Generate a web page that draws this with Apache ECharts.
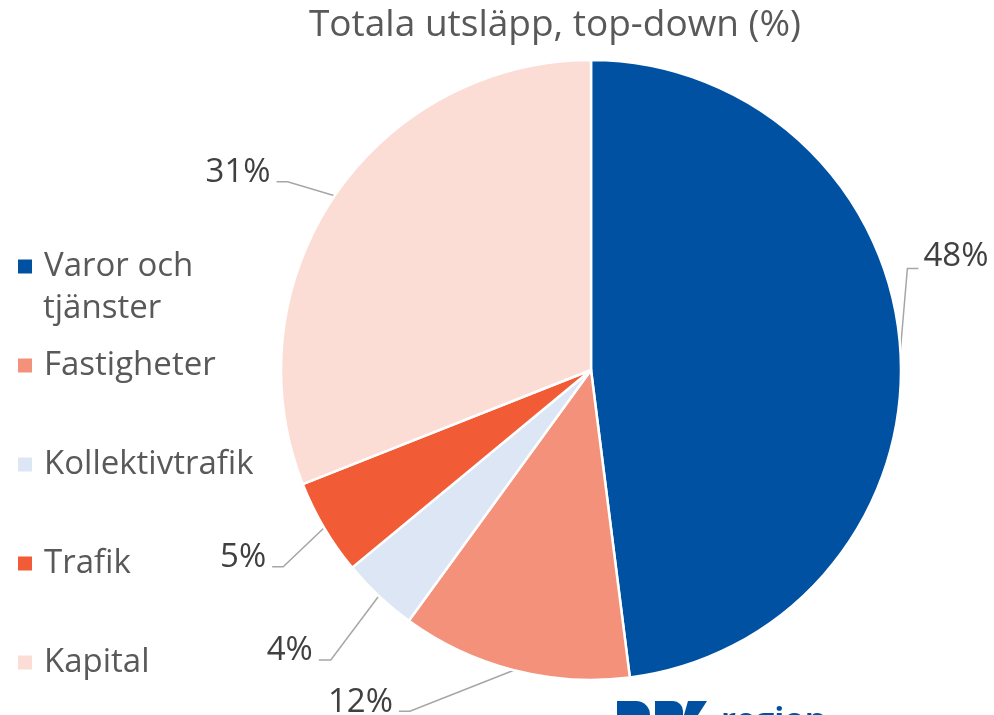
<!DOCTYPE html>
<html>
<head>
<meta charset="utf-8">
<script src="https://cdn.jsdelivr.net/npm/echarts@6/dist/echarts.min.js"></script>
<style>
html,body{margin:0;padding:0;background:#fff;}
#chart{width:994px;height:715px;}
</style>
</head>
<body>
<div id="chart"></div>
<script>
const categories = ['Varor och tjänster', 'Fastigheter', 'Kollektivtrafik', 'Trafik', 'Kapital'];
const values = [48, 12, 4, 5, 31];
const colors = ['#0051A1', '#F4917A', '#DCE6F4', '#F15B35', '#FBDDD6'];
const titleText = 'Totala utsläpp, top-down (%)';
const legendFirstLine = 'Varor och';
const legendSecondLine = 'tjänster';

// label leader-line geometry (style only): bend offset from slice edge, horizontal tail length
const labelGeom = [
  {bx: 7, by: -82, h: 11},
  {bx: -104, by: 41, h: -11},
  {bx: -48, by: 64, h: -12},
  {bx: -41, by: 39, h: -11},
  {bx: -47, by: -14, h: -11}
];

const FONT = '"Open Sans", sans-serif';
const chart = echarts.init(document.getElementById('chart'));

const option = {
  animation: false,
  backgroundColor: '#fff',
  title: {
    text: titleText,
    left: 555,
    top: 7,
    padding: 0,
    textAlign: 'center',
    textStyle: {fontFamily: FONT, fontSize: 37, fontWeight: 'normal', color: '#595959'}
  },
  legend: {
    orient: 'vertical',
    left: 16,
    top: 250,
    padding: 0,
    itemGap: 66,
    itemWidth: 16,
    itemHeight: 60,
    icon: 'path://M0,0L10,0L10,10L0,10Z',
    symbolKeepAspect: true,
    data: categories,
    formatter: function (name) {
      if (name === categories[0]) return '{c|' + legendFirstLine + '}';
      return '{c|' + name + '}';
    },
    textStyle: {
      fontFamily: FONT, fontSize: 33, color: '#595959',
      rich: {
        c: {fontFamily: FONT, fontSize: 33, color: '#595959', padding: [0, 0, 0, 6]}
      }
    }
  },
  series: [{
    type: 'pie',
    center: [591, 370],
    radius: 310,
    startAngle: 90,
    clockwise: true,
    avoidLabelOverlap: false,
    data: categories.map((n, i) => ({name: n, value: values[i], itemStyle: {color: colors[i]}})),
    itemStyle: {borderColor: '#fff', borderWidth: 2.5},
    label: {
      show: true,
      position: 'outside',
      formatter: '{c}%',
      fontFamily: FONT, fontSize: 33, color: '#404040'
    },
    labelLine: {show: true, length: 20, length2: 10, lineStyle: {color: '#A6A6A6', width: 1.5}},
    emphasis: {disabled: true},
    labelLayout: function (params) {
      const p0 = params.labelLinePoints[0];
      const g = labelGeom[params.dataIndex];
      const b = [p0[0] + g.bx, p0[1] + g.by];
      const e = [b[0] + g.h, b[1]];
      const right = g.h > 0;
      return {
        x: right ? e[0] + 5 : e[0] - 6,
        y: right ? e[1] - 12 : e[1] - 9,
        align: right ? 'left' : 'right',
        verticalAlign: 'middle',
        labelLinePoints: [p0, b, e]
      };
    }
  }],
  graphic: [
    {type: 'text', x: 43, y: 309, style: {text: legendSecondLine, fill: '#595959', font: '33px "Open Sans", sans-serif', textVerticalAlign: 'middle'}, silent: true},
    {type: 'rect', shape: {x: 617, y: 701, width: 33, height: 20, r: [0, 14, 0, 0]}, style: {fill: '#0051A1'}, silent: true},
    {type: 'rect', shape: {x: 655, y: 701, width: 28, height: 20, r: [0, 10, 0, 0]}, style: {fill: '#0051A1'}, silent: true},
    {type: 'polygon', shape: {points: [[688, 701], [707, 701], [698, 715], [684, 715]]}, style: {fill: '#0051A1'}, silent: true},
    {type: 'text', x: 721, y: 705, style: {text: 'region', fill: '#0051A1', font: 'bold 33px "Open Sans", sans-serif', textVerticalAlign: 'top'}, silent: true}
  ]
};
chart.setOption(option);
</script>
</body>
</html>
